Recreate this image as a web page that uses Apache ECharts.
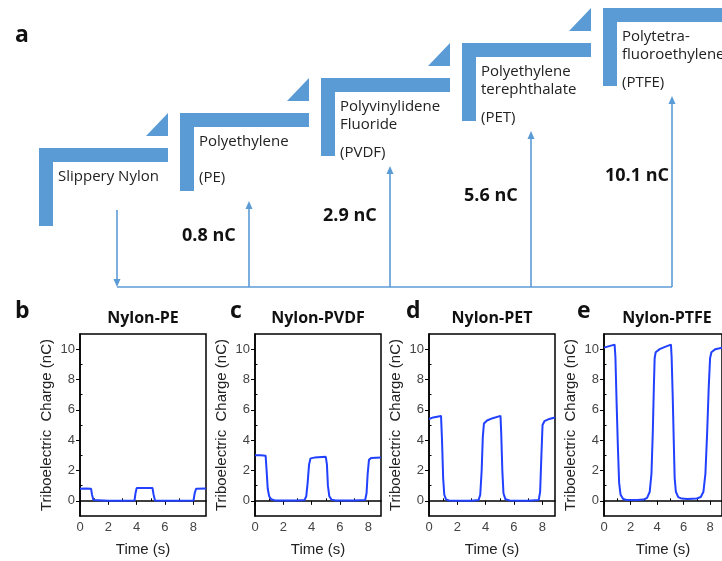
<!DOCTYPE html>
<html><head><meta charset="utf-8">
<script src="https://cdn.jsdelivr.net/npm/echarts@6/dist/echarts.min.js"></script>
<style>html,body{margin:0;padding:0;background:#fff}#c{width:722px;height:561px}</style>
</head><body><div id="c"></div>
<script>
// ---------- data ----------
const materialNames = [["Slippery Nylon"], ["Polyethylene"], ["Polyvinylidene", "Fluoride"], ["Polyethylene", "terephthalate"], ["Polytetra-", "fluoroethylene"]];
const materialAbbr = ["", "(PE)", "(PVDF)", "(PET)", "(PTFE)"];
const chargeNC = [0.8, 2.9, 5.6, 10.1];
const panelLetters = ["b", "c", "d", "e"];
const panelTitles = ["Nylon-PE", "Nylon-PVDF", "Nylon-PET", "Nylon-PTFE"];
const xTickLabels = [0, 2, 4, 6, 8];
const xMinorTicks = [1, 3, 5, 7];
const yTickLabels = [0, 2, 4, 6, 8, 10];
const yMinorTicks = [1, 3, 5, 7, 9];

const pePts = [[0,0.80],[0.4,0.81],[0.78,0.80],[0.85,0.4],[0.95,0.05],[1.05,0.0],[2,0.01],[3,0.0],[3.85,0.02],[3.92,0.5],[4.0,0.84],[4.6,0.85],[5.12,0.85],[5.2,0.4],[5.3,0.02],[6,0],[7,0.01],[8.02,0.02],[8.1,0.5],[8.2,0.80],[8.9,0.82]];
const pvdfPts = [[0,3.0],[0.4,3.0],[0.75,2.98],[0.82,2.0],[0.9,0.8],[1.0,0.3],[1.15,0.1],[1.4,0.03],[2,0.02],[3,0.02],[3.5,0.05],[3.62,0.3],[3.72,1.2],[3.82,2.4],[3.92,2.8],[4.2,2.85],[5.0,2.9],[5.08,2.4],[5.15,1.0],[5.25,0.3],[5.4,0.08],[5.7,0.02],[7,0.02],[7.78,0.05],[7.88,0.5],[7.96,1.8],[8.05,2.7],[8.2,2.82],[8.9,2.85]];
const petPts = [[0,5.4],[0.3,5.5],[0.85,5.6],[0.92,4.0],[1.0,1.5],[1.08,0.4],[1.2,0.1],[1.4,0.02],[2,0.0],[3,0.01],[3.5,0.05],[3.62,0.4],[3.72,2.0],[3.8,4.2],[3.88,5.1],[4.1,5.3],[4.5,5.45],[5.05,5.6],[5.1,4.5],[5.18,2.0],[5.26,0.5],[5.4,0.1],[5.7,0.02],[7,0.01],[7.75,0.05],[7.85,0.6],[7.94,3.0],[8.02,5.0],[8.15,5.25],[8.5,5.4],[8.9,5.5]];
const ptfePts = [[0,10.1],[0.4,10.2],[0.8,10.3],[0.86,9.5],[0.95,6.5],[1.05,3.5],[1.14,1.2],[1.25,0.4],[1.45,0.12],[1.7,0.05],[2.5,0.05],[3.0,0.08],[3.25,0.2],[3.45,0.6],[3.58,1.8],[3.68,4.5],[3.76,7.5],[3.82,9.4],[3.9,9.8],[4.2,10.0],[4.6,10.15],[5.05,10.3],[5.1,9.5],[5.18,7.0],[5.26,4.0],[5.33,1.5],[5.42,0.6],[5.6,0.25],[5.85,0.15],[6.3,0.12],[7.0,0.15],[7.3,0.25],[7.5,0.6],[7.65,1.8],[7.78,4.5],[7.9,7.5],[8.0,9.4],[8.1,9.8],[8.4,10.0],[8.9,10.1]];
const panelData = [pePts, pvdfPts, petPts, ptfePts];

// ---------- layout ----------
const BLUE = '#5b9bd5';
const LINE = '#2140ff';
const panelLeft = [80, 255, 429, 604];
const PW = 126, PT = 334, PH = 182;
const tickFont = '"Liberation Sans", Arial, sans-serif';

const chart = echarts.init(document.getElementById('c'), null, {renderer: 'canvas'});

const grids = [], xAxes = [], yAxes = [], series = [], graphics = [];
panelLeft.forEach((L, p) => {
  grids.push({left: L, top: PT, width: PW, height: PH, show: true, borderColor: '#000', borderWidth: 1.5, containLabel: false});
  xAxes.push({
    type: 'value', gridIndex: p, min: 0, max: 8.9,
    name: 'Time (s)', nameLocation: 'middle', nameGap: 26,
    nameTextStyle: {fontFamily: tickFont, fontSize: 15, color: '#222'},
    axisLine: {show: true, lineStyle: {color: '#000', width: 1.5}},
    axisTick: {show: true, inside: false, length: 4, customValues: xTickLabels, lineStyle: {color: '#000', width: 1}},
    axisLabel: {customValues: xTickLabels, margin: 5, fontFamily: tickFont, fontSize: 13, color: '#444'},
    splitLine: {show: false}
  });
  xAxes.push({
    type: 'value', gridIndex: p, min: 0, max: 8.9,
    axisLine: {show: false},
    axisTick: {show: true, inside: false, length: 2.5, customValues: xMinorTicks, lineStyle: {color: '#000', width: 1}},
    axisLabel: {show: false}, splitLine: {show: false}
  });
  yAxes.push({
    type: 'value', gridIndex: p, min: -1, max: 11,
    name: 'Triboelectric  Charge (nC)', nameLocation: 'middle', nameGap: 26,
    nameTextStyle: {fontFamily: tickFont, fontSize: 15, color: '#222'},
    axisLine: {show: true, lineStyle: {color: '#000', width: 1.5}},
    axisTick: {show: true, inside: false, length: 4, customValues: yTickLabels, lineStyle: {color: '#000', width: 1}},
    axisLabel: {customValues: yTickLabels, margin: 5, fontFamily: tickFont, fontSize: 13, color: '#444'},
    splitLine: {show: false}
  });
  yAxes.push({
    type: 'value', gridIndex: p, min: -1, max: 11,
    axisLine: {show: false},
    axisTick: {show: true, inside: false, length: 2.5, customValues: yMinorTicks, lineStyle: {color: '#000', width: 1}},
    axisLabel: {show: false}, splitLine: {show: false}
  });
  series.push({
    type: 'line', xAxisIndex: 2 * p, yAxisIndex: 2 * p, data: panelData[p],
    showSymbol: false, symbol: 'none', smooth: false,
    lineStyle: {color: LINE, width: 2}, clip: true, animation: false
  });
  graphics.push({type: 'text', left: null, x: L + PW / 2, y: 318,
    style: {text: panelTitles[p], font: 'bold 16px "Open Sans", sans-serif', fill: '#111', textAlign: 'center', textVerticalAlign: 'middle'}});
});
const letterX = [15, 230, 406, 577];
panelLetters.forEach((t, p) => {
  graphics.push({type: 'text', x: letterX[p], y: 311,
    style: {text: t, font: 'bold 23px "Open Sans", sans-serif', fill: '#111', textAlign: 'left', textVerticalAlign: 'middle'}});
});
graphics.push({type: 'text', x: 15, y: 35,
  style: {text: 'a', font: 'bold 23px "Open Sans", sans-serif', fill: '#111', textAlign: 'left', textVerticalAlign: 'middle'}});

// diagram grid (panel a)
const dg = grids.length;
grids.push({left: 39, top: 8, width: 564, height: 140, show: false});
xAxes.push({type: 'value', gridIndex: dg, min: 0, max: 4, show: false});
yAxes.push({type: 'value', gridIndex: dg, min: 0, max: 4, show: false});

function arrowHead(ax, ty, dir) { // dir -1 pointing up, +1 pointing down
  return {type: 'polygon', shape: {points: [[ax, ty], [ax - 3.5, ty - dir * 8], [ax + 3.5, ty - dir * 8]]}, style: {fill: BLUE}};
}
function renderStep(params, api) {
  const i = api.value(0);
  const pt = api.coord([i, i]);
  const x = pt[0], y = pt[1];
  const base = api.coord([0, 0]);
  const baseY = base[1] + 139;
  const ch = [];
  ch.push({type: 'rect', shape: {x: x, y: y, width: 14, height: 78}, style: {fill: BLUE}});
  ch.push({type: 'rect', shape: {x: x, y: y, width: 129, height: 14}, style: {fill: BLUE}});
  ch.push({type: 'polygon', shape: {points: [[x + 107, y - 12], [x + 129, y - 12], [x + 129, y - 35]]}, style: {fill: BLUE}});
  const lines = materialNames[i];
  lines.forEach((t, k) => ch.push({type: 'text', style: {text: t, x: x + 19, y: y + 29 + 18 * k, fill: '#222', font: '15px "Open Sans", sans-serif', textVerticalAlign: 'middle'}}));
  if (materialAbbr[i]) ch.push({type: 'text', style: {text: materialAbbr[i], x: x + 19, y: y + 65 + 10 * (lines.length - 1), fill: '#222', font: '15px "Open Sans", sans-serif', textVerticalAlign: 'middle'}});
  if (i === 0) {
    const ax = x + 78;
    ch.push({type: 'line', shape: {x1: ax, y1: y + 62, x2: ax, y2: baseY - 4}, style: {stroke: BLUE, lineWidth: 1.6}});
    ch.push(arrowHead(ax, baseY, 1));
  } else {
    const ax = x + 69;
    const prevX = i === 1 ? base[0] + 78 : api.coord([i - 1, i - 1])[0] + 69;
    ch.push({type: 'line', shape: {x1: prevX, y1: baseY, x2: ax, y2: baseY}, style: {stroke: BLUE, lineWidth: 1.6}});
    const tip = y + 88;
    ch.push({type: 'line', shape: {x1: ax, y1: baseY, x2: ax, y2: tip + 4}, style: {stroke: BLUE, lineWidth: 1.6}});
    ch.push(arrowHead(ax, tip, -1));
    ch.push({type: 'text', style: {text: chargeNC[i - 1] + ' nC', x: x + 2, y: base[1] + 88 - 20 * (i - 1), fill: '#111', font: 'bold 18px "Open Sans", sans-serif', textVerticalAlign: 'middle'}});
  }
  return {type: 'group', children: ch};
}
series.push({
  type: 'custom', xAxisIndex: 4 * 2, yAxisIndex: 4 * 2, clip: false,
  data: materialNames.map((_, i) => [i]),
  renderItem: renderStep, animation: false, silent: true
});

chart.setOption({
  animation: false,
  backgroundColor: '#fff',
  grid: grids, xAxis: xAxes, yAxis: yAxes, series: series,
  graphic: graphics
});
</script></body></html>
